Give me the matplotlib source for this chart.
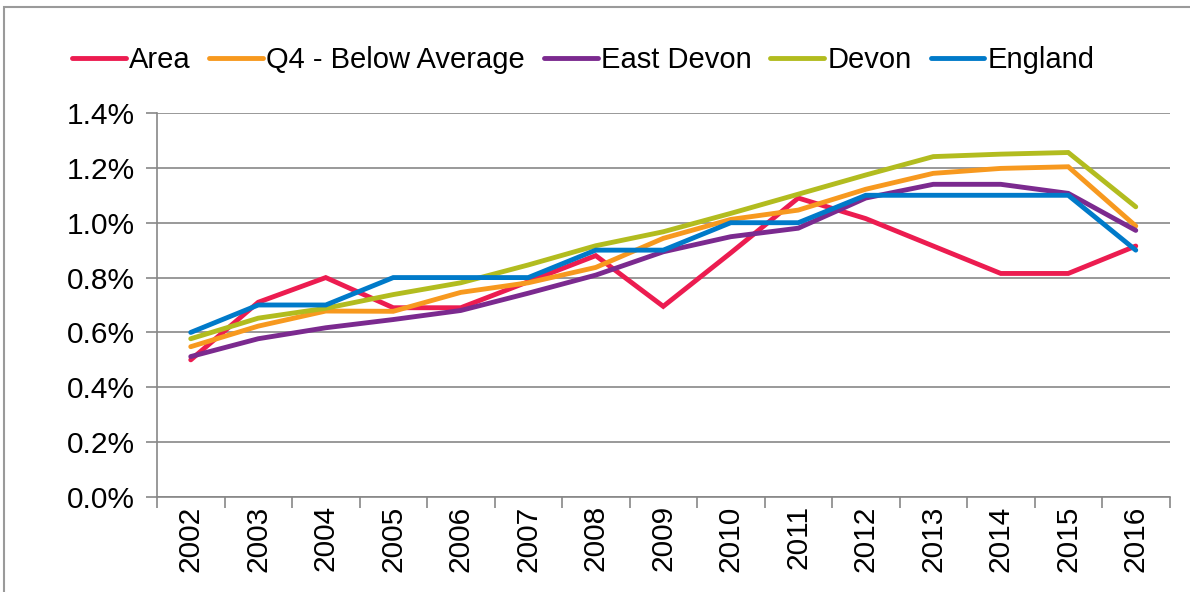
import numpy as np
import matplotlib
matplotlib.use('Agg')
import matplotlib.pyplot as plt
from matplotlib.ticker import FuncFormatter, FixedLocator
from matplotlib.patches import Rectangle

plt.rcParams['font.family'] = ['Liberation Sans', 'DejaVu Sans']

years = ['2002', '2003', '2004', '2005', '2006', '2007', '2008', '2009',
         '2010', '2011', '2012', '2013', '2014', '2015', '2016']

# annual rates, in percent
area = [0.50, 0.71, 0.80, 0.69, 0.69, 0.785, 0.88, 0.695, 0.89, 1.09, 1.015, 0.915, 0.815, 0.815, 0.915]
q4_below_avg = [0.548, 0.623, 0.678, 0.677, 0.746, 0.781, 0.837, 0.943, 1.012, 1.046, 1.122, 1.18, 1.198, 1.204, 0.988]
east_devon = [0.512, 0.577, 0.617, 0.647, 0.68, 0.743, 0.809, 0.894, 0.949, 0.98, 1.09, 1.14, 1.14, 1.107, 0.972]
devon = [0.577, 0.652, 0.688, 0.738, 0.781, 0.846, 0.916, 0.967, 1.034, 1.104, 1.174, 1.241, 1.25, 1.256, 1.058]
england = [0.6, 0.7, 0.7, 0.8, 0.8, 0.8, 0.9, 0.9, 1.0, 1.0, 1.1, 1.1, 1.1, 1.1, 0.9]

series = [
    ('Area', area, '#EC1C50'),
    ('Q4 - Below Average', q4_below_avg, '#F7991F'),
    ('East Devon', east_devon, '#7B2A8F'),
    ('Devon', devon, '#B2BC1F'),
    ('England', england, '#007AC9'),
]

grey = '#878787'

fig = plt.figure(figsize=(11.9, 5.92), dpi=100)
ax = fig.add_axes([157 / 1190, 1 - 497 / 592, (1169.5 - 157) / 1190, (497 - 113) / 592])

x = np.arange(len(years))
lines = []
for name, vals, col in series:
    ln, = ax.plot(x, vals, color=col, lw=3.5, label=name, solid_capstyle='round',
                  solid_joinstyle='miter')
    lines.append(ln)

ax.set_xlim(-0.5, len(years) - 0.5)
ax.set_ylim(0, 1.4)
ax.set_yticks(np.arange(0, 1.41, 0.2))
ax.yaxis.set_major_formatter(FuncFormatter(lambda v, p: f'{v:.1f}%'))
ax.grid(axis='y', color=grey, lw=1.2)
ax.set_axisbelow(True)

ax.set_xticks(x)
ax.set_xticklabels(years, rotation=90)
ax.xaxis.set_minor_locator(FixedLocator(np.arange(-0.5, len(years), 1)))
ax.tick_params(axis='x', which='major', length=0, pad=6, labelsize=21.5)
ax.tick_params(axis='x', which='minor', length=8, color=grey, width=1.2)
ax.tick_params(axis='y', length=8, color=grey, width=1.2, labelsize=21.5, pad=8)

for s in ['top', 'right']:
    ax.spines[s].set_visible(False)
for s in ['left', 'bottom']:
    ax.spines[s].set_color(grey)
    ax.spines[s].set_linewidth(1.2)

fig.legend(handles=lines, loc='center', bbox_to_anchor=(0.49, 0.899), ncol=5,
           frameon=False, fontsize=21, handlelength=1.85, handletextpad=0.1,
           columnspacing=0.65)

# outer chart frame
top = 1 - 7 / 592
fig.patches.append(Rectangle((4 / 1190, -0.2), 1.2, top + 0.2,
                             transform=fig.transFigure, fill=False,
                             edgecolor='#9a9a9a', lw=1.5))

fig.savefig('out.png', dpi=100)
